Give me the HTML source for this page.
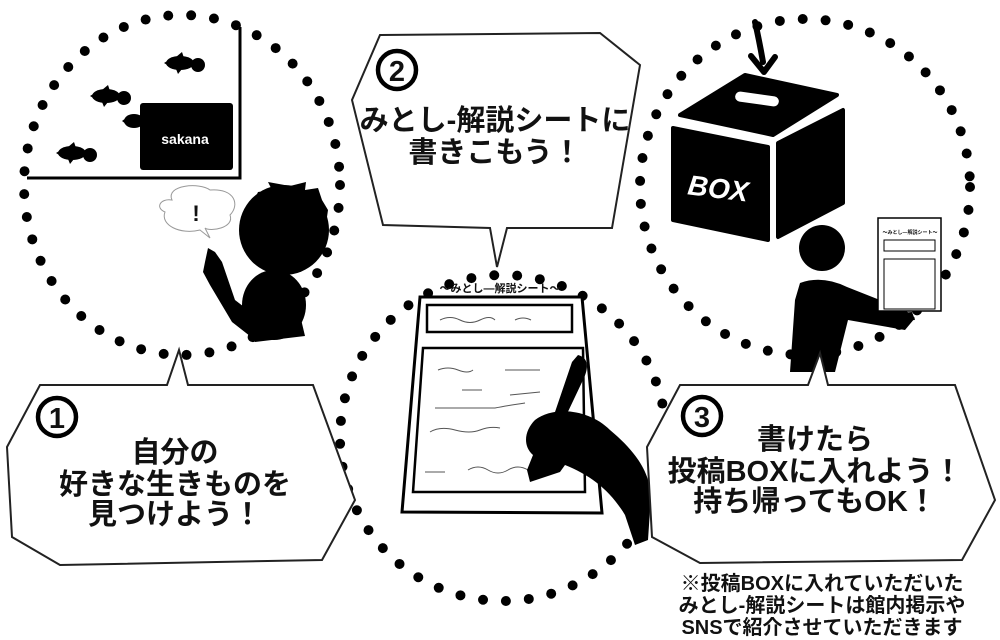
<!DOCTYPE html>
<html><head><meta charset="utf-8"><style>
html,body{margin:0;padding:0;background:#fff}
svg{display:block}
.t{font-family:"Liberation Sans","Noto Sans CJK JP",sans-serif;font-weight:bold;fill:#111}
</style></head><body>
<svg width="1000" height="640" viewBox="0 0 1000 640" xmlns="http://www.w3.org/2000/svg">
<g fill="none" stroke="#000" stroke-width="10" stroke-linecap="round" stroke-dasharray="0 23">
<ellipse cx="182" cy="185" rx="158" ry="170"/>
<ellipse cx="805" cy="187" rx="165" ry="168"/>
<ellipse cx="503" cy="438" rx="163" ry="163"/>
</g>

<!-- Panel 1 -->
<path d="M240 27 V178 H27" fill="none" stroke="#000" stroke-width="3"/>
<rect x="140" y="103" width="93" height="67" rx="3" fill="#000"/>
<text x="185" y="144" font-size="14" fill="#fff" text-anchor="middle" font-family="Liberation Sans,sans-serif" font-weight="bold">sakana</text>
<g fill="#000">
<g transform="translate(180,63)"><ellipse cx="0" cy="0" rx="14" ry="7"/><circle cx="18" cy="2" r="7"/><path d="M-16 0 L-6 -6 L-6 6Z"/><path d="M-4 -6 L2 -11 L4 -5Z"/><path d="M-4 6 L-2 11 L2 6Z"/></g>
<g transform="translate(106,96)"><ellipse cx="0" cy="0" rx="14" ry="7"/><circle cx="18" cy="2" r="7"/><path d="M-16 0 L-6 -6 L-6 6Z"/><path d="M-4 -6 L2 -11 L4 -5Z"/><path d="M-4 6 L-2 11 L2 6Z"/></g>
<g transform="translate(134,121)"><ellipse cx="0" cy="0" rx="10" ry="7"/><path d="M-12 0 L-4 -6 L-4 6Z"/></g>
<g transform="translate(72,153)"><ellipse cx="0" cy="0" rx="14" ry="7"/><circle cx="18" cy="2" r="7"/><path d="M-16 0 L-6 -6 L-6 6Z"/><path d="M-4 -6 L2 -11 L4 -5Z"/><path d="M-4 6 L-2 11 L2 6Z"/></g>
</g>
<path d="M172 200 C165 185 200 182 210 190 C235 188 240 205 230 215 C235 228 210 232 205 228 L210 238 L200 230 C180 235 160 225 165 212 C155 208 160 198 172 200Z" fill="#fff" stroke="#999" stroke-width="1"/>
<text x="196" y="221" font-size="22" text-anchor="middle" class="t">!</text>
<g fill="#000">
<ellipse cx="284" cy="230" rx="45" ry="45"/>
<path d="M252 205 L258 192 L272 190 L268 182 L290 186 L306 182 L305 190 L318 188 L322 200 L328 210 L326 224 L300 205Z"/>
<ellipse cx="274" cy="305" rx="32" ry="35"/>
<path d="M208 248 L215 252 L222 262 L235 300 L248 310 L260 320 L265 340 L255 340 L232 322 L210 285 L203 272 L205 262Z"/>
<path d="M248 320 L300 315 L305 336 L255 342Z"/>
</g>

<!-- Panel 2 sheet -->
<path d="M420 297 L582 297 L602 513 L402 512Z" fill="#fff" stroke="#000" stroke-width="3"/>
<text x="500" y="292" font-size="11" text-anchor="middle" class="t">〜みとし―解説シート〜</text>
<rect x="427" y="305" width="145" height="27" fill="none" stroke="#000" stroke-width="2.5"/>
<path d="M423 348 L583 348 L585 492 L413 492Z" fill="none" stroke="#000" stroke-width="2.5"/>
<g fill="none" stroke="#555" stroke-width="1">
<path d="M440 320 q10 -5 20 0 t20 0 t15 0"/><path d="M515 320 q8 -4 16 0"/>
<path d="M438 370 q10 -4 20 0 t15 0"/><path d="M505 370 h35"/><path d="M462 390 h20"/><path d="M510 395 l30 -3"/>
<path d="M435 408 h60 q10 -2 30 -5"/><path d="M430 432 q10 -6 25 -2 t25 0 t20 -2"/><path d="M425 472 h20"/><path d="M468 470 q10 -6 20 0 t20 0 t20 0"/>
</g>
<g fill="#000">
<path d="M578 355 C590 358 588 370 583 380 L565 418 L555 412 L572 362Z"/>
<path d="M535 420 C555 405 590 410 610 430 C640 455 655 480 650 510 L648 540 L635 545 L625 515 C610 490 590 475 565 465 L560 472 L530 482 L527 470 L533 455 C522 445 525 430 535 420Z"/>
</g>

<!-- Panel 3 -->
<path d="M755 22 C758 35 760 45 763 62" fill="none" stroke="#000" stroke-width="6" stroke-linecap="round"/>
<path d="M751 56 L764 72 L775 57" fill="none" stroke="#000" stroke-width="6" stroke-linecap="round" stroke-linejoin="round"/>
<g fill="#000" stroke="#000" stroke-width="4" stroke-linejoin="round">
<path d="M680 115 L745 75 L837 95 L773 135Z"/>
<path d="M673 128 L768 147 L768 240 L673 220Z"/>
<path d="M778 143 L843 110 L843 203 L778 237Z"/>
</g>
<rect x="735" y="94" width="44" height="10" rx="5" fill="#fff" transform="rotate(8 757 99)"/>
<text x="718" y="198" font-size="28" fill="#fff" text-anchor="middle" font-family="Liberation Sans,sans-serif" font-weight="bold" font-style="italic" transform="rotate(7 718 190)">BOX</text>
<g fill="#000">
<circle cx="822" cy="248" r="23"/>
<path d="M800 283 Q822 275 847 287 L905 310 L915 318 L905 330 L848 320 L835 372 L790 372 L795 300Z"/>
</g>
<rect x="878" y="218" width="63" height="93" fill="#fff" stroke="#000" stroke-width="1.5"/>
<text x="910" y="234" font-size="5" text-anchor="middle" class="t">〜みとし―解説シート〜</text>
<rect x="884" y="240" width="51" height="11" fill="none" stroke="#000" stroke-width="1"/>
<rect x="884" y="259" width="51" height="50" fill="none" stroke="#000" stroke-width="1"/>
<path d="M880 315 L912 312 L915 320 L880 322Z" fill="#000"/>

<!-- Bubbles -->
<g fill="#fff" stroke="#222" stroke-width="2" stroke-linejoin="miter">
<path d="M40 385 L167 385 L179 350 L188 385 L313 385 L355 500 L322 560 L60 565 L12 537 L7 447Z"/>
<path d="M380 35 L600 33 L640 65 L612 228 L507 228 L497 267 L490 228 L383 225 L352 100Z"/>
<path d="M680 385 L808 385 L820 353 L828 385 L955 385 L995 500 L962 560 L700 563 L652 537 L647 447Z"/>
</g>

<g fill="none" stroke="#000" stroke-width="4.5">
<circle cx="57" cy="417" r="19"/>
<circle cx="397" cy="70" r="19"/>
<circle cx="702" cy="416" r="19"/>
</g>
<g class="t" text-anchor="middle">
<text x="57" y="428" font-size="29">1</text>
<text x="397" y="81" font-size="29">2</text>
<text x="702" y="427" font-size="29">3</text>

<text x="175" y="462" font-size="29">自分の</text>
<text x="175" y="494" font-size="29">好きな生きものを</text>
<text x="175" y="524" font-size="29">見つけよう！</text>

<text x="495" y="130" font-size="29">みとし-解説シートに</text>
<text x="495" y="162" font-size="29">書きこもう！</text>

<text x="815" y="449" font-size="29">書けたら</text>
<text x="815" y="481" font-size="29">投稿BOXに入れよう！</text>
<text x="815" y="511" font-size="29">持ち帰ってもOK！</text>

<text x="822" y="590" font-size="20">※投稿BOXに入れていただいた</text>
<text x="822" y="612" font-size="20">みとし-解説シートは館内掲示や</text>
<text x="822" y="634" font-size="20">SNSで紹介させていただきます</text>
</g>
</svg>
</body></html>
